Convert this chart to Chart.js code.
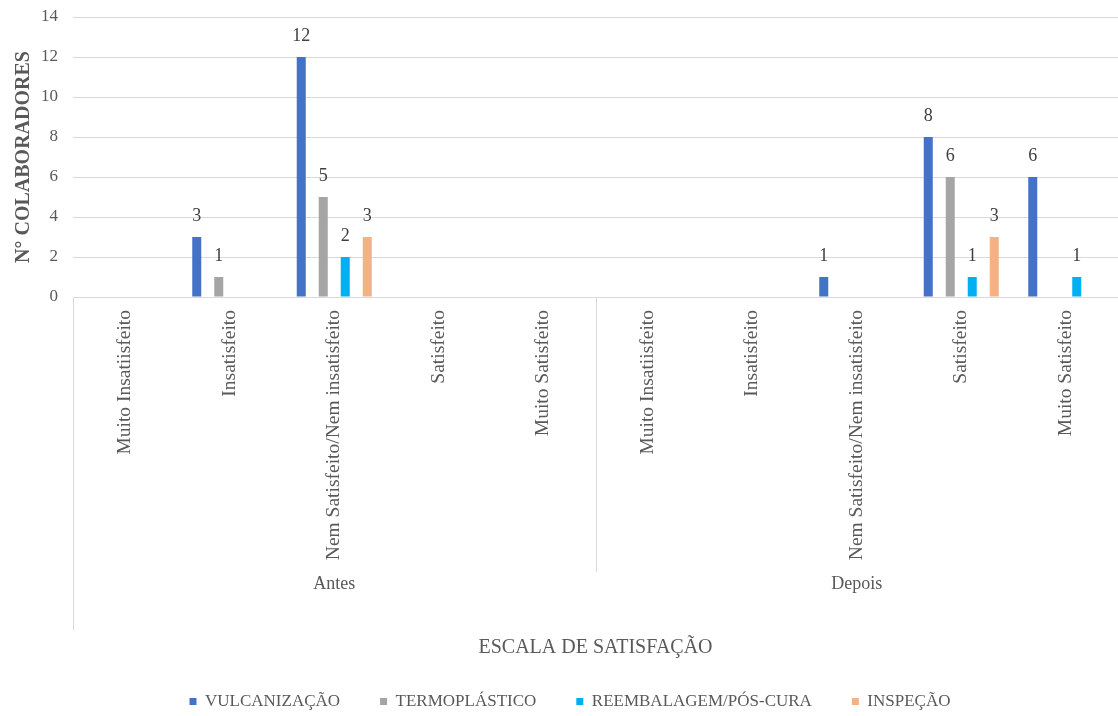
<!DOCTYPE html>
<html>
<head>
<meta charset="utf-8">
<script src="https://cdn.jsdelivr.net/npm/chart.js@4.4.1/dist/chart.umd.min.js"></script>
<style>
  html, body { margin: 0; padding: 0; background: #ffffff; }
  canvas { display: block; }
</style>
</head>
<body>
<canvas id="chart" width="1118" height="716"></canvas>
<script>
// Survey periods and the satisfaction scale used in each period
const periods = ['Antes', 'Depois'];
const scaleLevels = ['Muito Insatiisfeito', 'Insatisfeito', 'Nem Satisfeito/Nem insatisfeito', 'Satisfeito', 'Muito Satisfeito'];

// Number of employees per answer (Antes x5, then Depois x5)
const vulcanizacao  = [0, 3, 12, 0, 0, 0, 0, 1, 8, 6];
const termoplastico = [0, 1, 5, 0, 0, 0, 0, 0, 6, 0];
const reembalagem   = [0, 0, 2, 0, 0, 0, 0, 0, 1, 1];
const inspecao      = [0, 0, 3, 0, 0, 0, 0, 0, 3, 0];

const yTicks = [0, 2, 4, 6, 8, 10, 12, 14];

const FONT = '"Liberation Serif", "Times New Roman", serif';
const TEXT = '#595959';
const LINE = '#D9D9D9';

const labels = periods.flatMap(() => scaleLevels);

// Value labels above each non-zero bar
const valueLabels = {
  id: 'valueLabels',
  afterDatasetsDraw(chart) {
    const ctx = chart.ctx;
    ctx.save();
    ctx.font = '18px ' + FONT;
    ctx.fillStyle = '#404040';
    ctx.textAlign = 'center';
    ctx.textBaseline = 'middle';
    chart.data.datasets.forEach((ds, i) => {
      const meta = chart.getDatasetMeta(i);
      meta.data.forEach((bar, j) => {
        const v = ds.data[j];
        if (v > 0) ctx.fillText(String(v), bar.x, bar.y - 21);
      });
    });
    ctx.restore();
  }
};

// Outer edge and group divider of the two-level category axis
const groupDividers = {
  id: 'groupDividers',
  afterDraw(chart) {
    const x = chart.scales.x;
    const ctx = chart.ctx;
    const per = scaleLevels.length;
    ctx.save();
    ctx.strokeStyle = LINE;
    ctx.lineWidth = 1;
    ctx.beginPath();
    ctx.moveTo(Math.round(x.left) + 0.5, chart.chartArea.bottom);
    ctx.lineTo(Math.round(x.left) + 0.5, 630);
    for (let g = 1; g < periods.length; g++) {
      const px = (x.getPixelForValue(g * per - 1) + x.getPixelForValue(g * per)) / 2;
      ctx.moveTo(Math.round(px) + 0.5, chart.chartArea.bottom);
      ctx.lineTo(Math.round(px) + 0.5, 572);
    }
    ctx.stroke();
    ctx.restore();
  }
};

// Keep the plot area edges where the layout padding puts them
const noEdgePadding = s => { s.paddingTop = 0; s.paddingBottom = 0; s.paddingLeft = 0; s.paddingRight = 0; };

const barStyle = { categoryPercentage: 0.842, barPercentage: 0.41, borderWidth: 0 };

new Chart(document.getElementById('chart'), {
  type: 'bar',
  data: {
    labels: labels,
    datasets: [
      Object.assign({ label: 'VULCANIZAÇÃO', data: vulcanizacao, backgroundColor: '#4472C4' }, barStyle),
      Object.assign({ label: 'TERMOPLÁSTICO', data: termoplastico, backgroundColor: '#A5A5A5' }, barStyle),
      Object.assign({ label: 'REEMBALAGEM/PÓS-CURA', data: reembalagem, backgroundColor: '#00B0F0' }, barStyle),
      Object.assign({ label: 'INSPEÇÃO', data: inspecao, backgroundColor: '#F4B183' }, barStyle)
    ]
  },
  options: {
    responsive: false,
    devicePixelRatio: 1,
    animation: false,
    layout: { padding: { top: 17, left: 22, right: 0, bottom: 0 } },
    plugins: {
      tooltip: { enabled: false },
      legend: {
        position: 'bottom',
        maxHeight: 63,
        labels: {
          boxWidth: 7,
          boxHeight: 7,
          padding: 40,
          color: TEXT,
          font: { family: FONT, size: 17 }
        }
      }
    },
    scales: {
      x: {
        position: 'bottom',
        weight: 0,
        grid: { display: false, drawTicks: false },
        border: { display: false },
        ticks: {
          autoSkip: false,
          minRotation: 90,
          maxRotation: 90,
          padding: 13,
          color: TEXT,
          font: { family: FONT, size: 19.5 }
        },
        afterFit: s => { s.height = 268; noEdgePadding(s); }
      },
      x2: {
        type: 'category',
        position: 'bottom',
        weight: 1,
        labels: periods,
        offset: true,
        grid: { display: false, drawTicks: false },
        border: { display: false },
        ticks: { padding: 8, color: TEXT, font: { family: FONT, size: 18 } },
        title: {
          display: true,
          text: 'ESCALA DE SATISFAÇÃO',
          color: TEXT,
          font: { family: FONT, size: 20 },
          padding: { top: 0, bottom: -7 }
        },
        afterFit: s => { s.height = 88; noEdgePadding(s); }
      },
      y: {
        min: 0,
        max: 14,
        grid: { color: LINE, drawTicks: false },
        border: { display: false },
        afterBuildTicks: s => { s.ticks = yTicks.map(v => ({ value: v })); },
        ticks: { padding: 15, color: TEXT, font: { family: FONT, size: 17 } },
        title: {
          display: true,
          text: 'N° COLABORADORES',
          color: TEXT,
          font: { family: FONT, size: 20, weight: 'bold' },
          padding: { top: -10, bottom: 0 }
        },
        afterFit: s => { s.width = 51; noEdgePadding(s); }
      }
    }
  },
  plugins: [valueLabels, groupDividers]
});
</script>
</body>
</html>
